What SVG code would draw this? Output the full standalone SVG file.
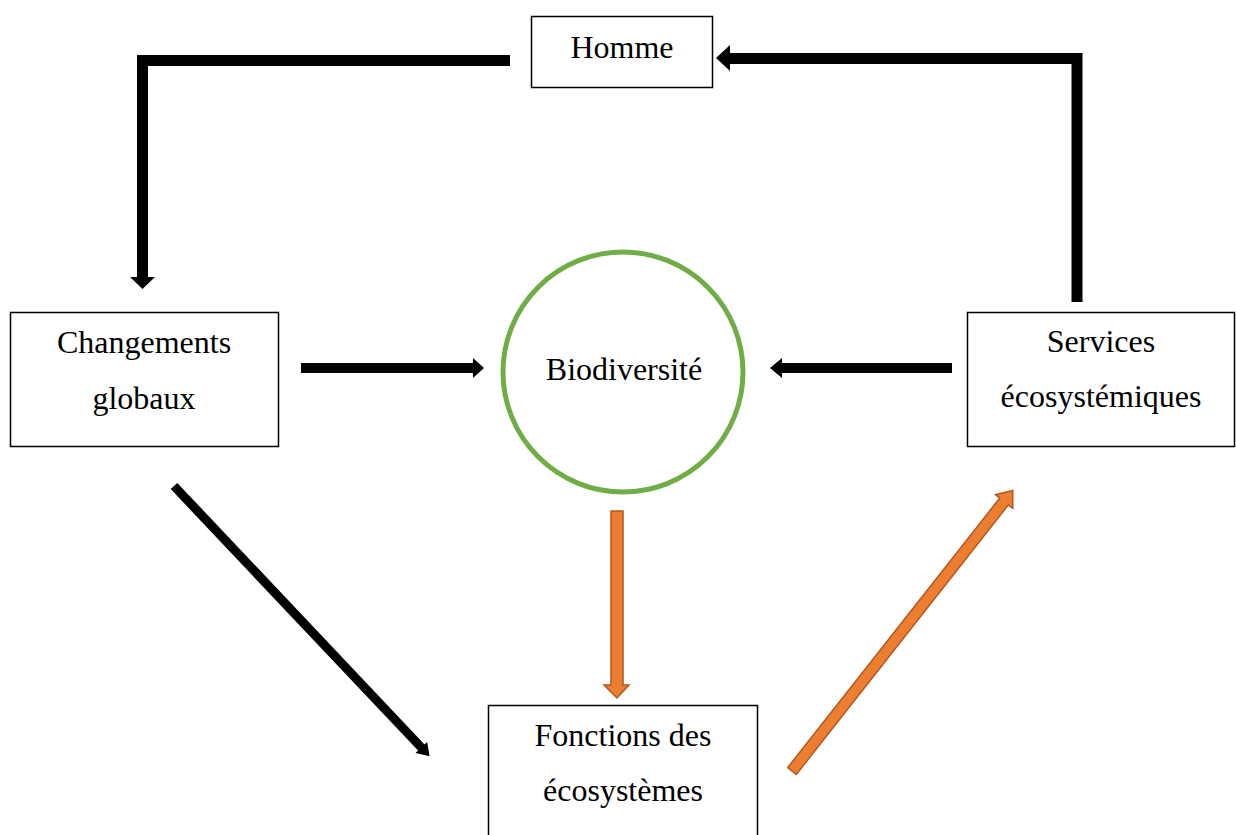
<svg xmlns="http://www.w3.org/2000/svg" width="1236" height="835" viewBox="0 0 1236 835">
<style>
.box{fill:#fff;stroke:#000;stroke-width:1.5}
.t{font-family:"Liberation Serif","Times New Roman",serif;font-size:32px;fill:#000;text-anchor:middle}
.bl{fill:none;stroke:#000}
.hd{fill:#000}
.or{fill:#ED7D31;stroke:#AE5A21;stroke-width:1.5;stroke-linejoin:miter}
</style>
<rect width="1236" height="835" fill="#fff"/>
<g id="connectors">
  <!-- Homme -> Changements -->
  <path class="bl" stroke-width="11" d="M510,60.5 H142.5 V278"/>
  <polygon class="hd" points="130,277 155,277 142.5,289"/>
  <!-- Services -> Homme -->
  <path class="bl" stroke-width="11" d="M1077,302 V58.5 H729"/>
  <polygon class="hd" points="730,45 730,71 716,58"/>
  <!-- Changements -> Biodiversite -->
  <line class="bl" stroke-width="10" x1="301" y1="368" x2="474" y2="368"/>
  <polygon class="hd" points="473,358 473,378 484,368"/>
  <!-- Services -> Biodiversite -->
  <line class="bl" stroke-width="10" x1="952" y1="368" x2="781" y2="368"/>
  <polygon class="hd" points="782,358 782,378 770,368"/>
  <!-- Changements -> Fonctions (diagonal) -->
  <g transform="translate(174,486) rotate(46.6)">
    <line class="bl" stroke-width="9" x1="0" y1="0" x2="362" y2="0"/>
    <polygon class="hd" points="360,-8 360,8 372,0"/>
  </g>
  <!-- Biodiversite -> Fonctions (orange) -->
  <polygon class="or" points="611,511 623,511 623,685 629,685 617,698 604,685 611,685"/>
  <!-- Fonctions -> Services (orange diagonal) -->
  <g transform="translate(792,771) rotate(-51.8)">
    <polygon class="or" points="0,-5.5 343,-5.5 343,-11 357,0 343,11 343,5.5 0,5.5"/>
  </g>
</g>
<g id="node-homme">
  <rect class="box" x="531.5" y="16.5" width="181" height="71"/>
  <text class="t" x="622" y="58">Homme</text>
</g>
<g id="node-changements">
  <rect class="box" x="10.5" y="312.5" width="268" height="134"/>
  <text class="t" x="144" y="353">Changements</text>
  <text class="t" x="144" y="409">globaux</text>
</g>
<g id="node-biodiversite">
  <circle cx="623" cy="372" r="120" fill="#fff" stroke="#70AD47" stroke-width="5"/>
  <text class="t" x="624" y="380">Biodiversité</text>
</g>
<g id="node-services">
  <rect class="box" x="967.5" y="312.5" width="267" height="134"/>
  <text class="t" x="1101" y="352">Services</text>
  <text class="t" x="1101" y="407">écosystémiques</text>
</g>
<g id="node-fonctions">
  <rect class="box" x="488.5" y="705.5" width="269" height="135"/>
  <text class="t" x="623" y="746">Fonctions des</text>
  <text class="t" x="623" y="801">écosystèmes</text>
</g>
</svg>
